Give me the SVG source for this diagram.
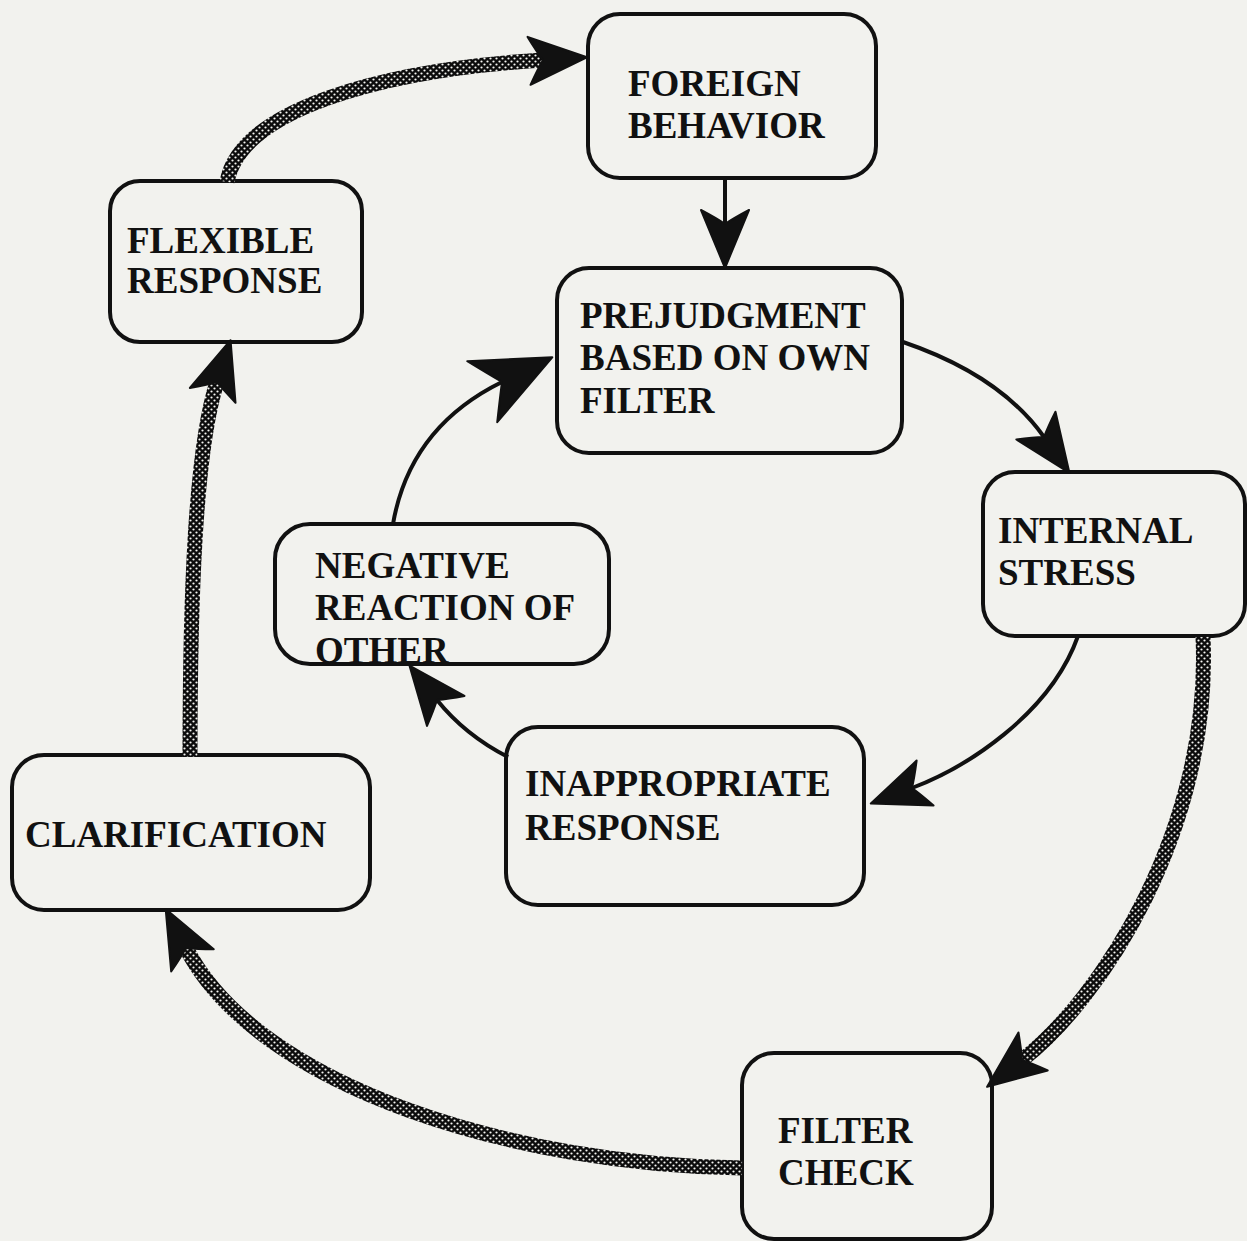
<svg xmlns="http://www.w3.org/2000/svg" width="1247" height="1241" viewBox="0 0 1247 1241">
  <style>
    .box { fill: #f2f2ee; stroke: #111; stroke-width: 4; }
    .lbl { font-family: "Liberation Serif", "Times New Roman", serif; font-weight: bold; font-size: 37px; fill: #111; }
    .thin { fill: none; stroke: #111; stroke-width: 4; }
    .thick { fill: none; stroke: url(#hatch); stroke-width: 15; }
  </style>
  <defs>
    <pattern id="hatch" patternUnits="userSpaceOnUse" width="6" height="6">
      <rect width="6" height="6" fill="#0c0c0c"/>
      <circle cx="1.5" cy="1.5" r="1.1" fill="#f6f6f2"/>
      <circle cx="4.5" cy="4.5" r="1.1" fill="#f6f6f2"/>
    </pattern>
    <marker id="ah" markerUnits="userSpaceOnUse" markerWidth="120" markerHeight="120" refX="0" refY="0" orient="auto" overflow="visible">
      <path d="M44,0 L-14,-24 Q-6,-9 0,0 Q-6,9 -14,24 Z" fill="#111" stroke="#111" stroke-width="2" stroke-linejoin="round"/>
    </marker>
    <marker id="ahL" markerUnits="userSpaceOnUse" markerWidth="160" markerHeight="160" refX="0" refY="0" orient="auto" overflow="visible">
      <path d="M56,0 L-22,-34 Q-8,-12 0,0 Q-8,12 -22,34 Z" fill="#111" stroke="#111" stroke-width="2" stroke-linejoin="round"/>
    </marker>
  </defs>
  <rect x="0" y="0" width="1247" height="1241" fill="#f2f2ee"/>

  <g id="foreign-behavior">
    <rect class="box" x="588" y="14" width="288" height="164" rx="32"/>
    <text class="lbl" x="628" y="96">FOREIGN</text>
    <text class="lbl" x="628" y="138">BEHAVIOR</text>
  </g>
  <g id="flexible-response">
    <rect class="box" x="110" y="181" width="252" height="161" rx="30"/>
    <text class="lbl" x="127" y="253">FLEXIBLE</text>
    <text class="lbl" x="127" y="293">RESPONSE</text>
  </g>
  <g id="prejudgment">
    <rect class="box" x="557" y="268" width="345" height="185" rx="32"/>
    <text class="lbl" x="580" y="328">PREJUDGMENT</text>
    <text class="lbl" x="580" y="370">BASED ON OWN</text>
    <text class="lbl" x="580" y="413">FILTER</text>
  </g>
  <g id="internal-stress">
    <rect class="box" x="983" y="472" width="262" height="164" rx="32"/>
    <text class="lbl" x="998" y="543">INTERNAL</text>
    <text class="lbl" x="998" y="585">STRESS</text>
  </g>
  <g id="negative-reaction">
    <rect class="box" x="275" y="524" width="334" height="140" rx="35"/>
    <text class="lbl" x="315" y="578">NEGATIVE</text>
    <text class="lbl" x="315" y="620">REACTION OF</text>
    <text class="lbl" x="315" y="663">OTHER</text>
  </g>
  <g id="inappropriate-response">
    <rect class="box" x="506" y="727" width="358" height="178" rx="32"/>
    <text class="lbl" x="525" y="796">INAPPROPRIATE</text>
    <text class="lbl" x="525" y="840">RESPONSE</text>
  </g>
  <g id="clarification">
    <rect class="box" x="12" y="755" width="358" height="155" rx="32"/>
    <text class="lbl" x="25" y="847">CLARIFICATION</text>
  </g>
  <g id="filter-check">
    <rect class="box" x="742" y="1053" width="250" height="186" rx="32"/>
    <text class="lbl" x="778" y="1143">FILTER</text>
    <text class="lbl" x="778" y="1185">CHECK</text>
  </g>

  <g id="connectors">
    <path class="thin" d="M725,178 L725,224" marker-end="url(#ah)"/>
    <path class="thin" d="M903,342 Q1000,375 1044,437" marker-end="url(#ah)"/>
    <path class="thin" d="M1078,636 C1050,715 965,768 912,788" marker-end="url(#ah)"/>
    <path class="thin" d="M508,757 Q465,735 437,700" marker-end="url(#ah)"/>
    <path class="thin" d="M393,524 C405,455 445,410 502,382" marker-end="url(#ahL)"/>
    <path class="thick" d="M227,182 C240,110 380,70 543,60" marker-end="url(#ah)"/>
    <path class="thick" d="M1203,637 C1212,830 1100,1000 1022,1060" marker-end="url(#ah)"/>
    <path class="thick" d="M742,1168 C520,1165 260,1090 186,948" marker-end="url(#ah)"/>
    <path class="thick" d="M190,757 C190,600 195,450 217,382" marker-end="url(#ah)"/>
  </g>
</svg>
